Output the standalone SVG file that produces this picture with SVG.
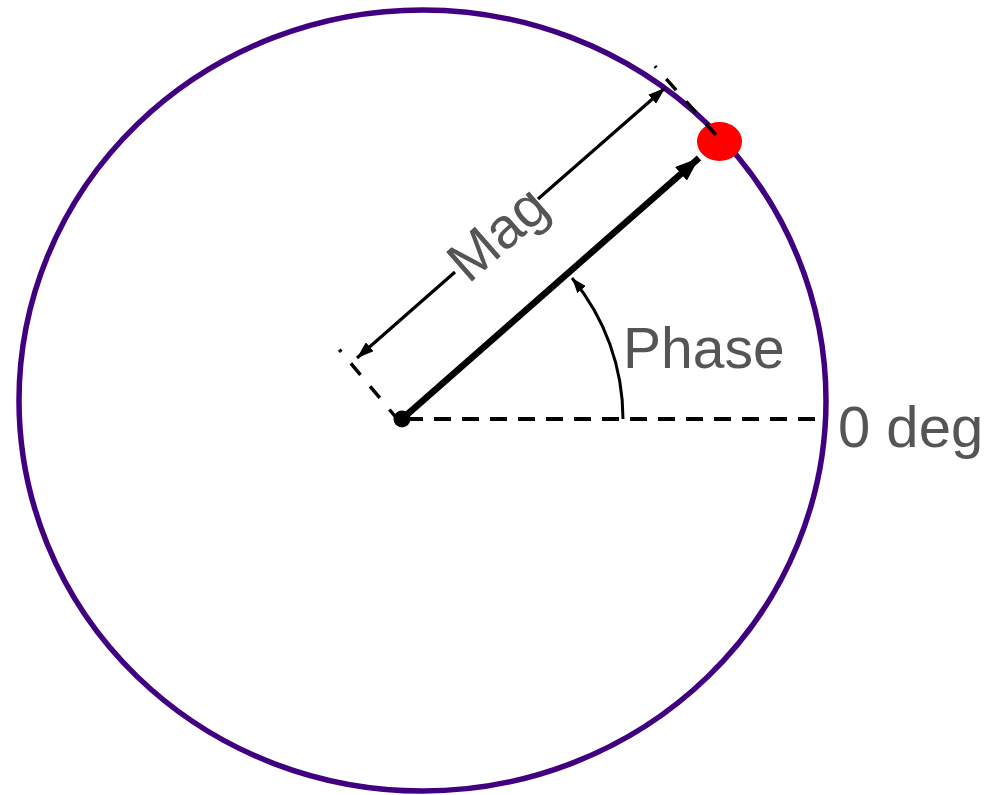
<svg xmlns="http://www.w3.org/2000/svg" width="984" height="795" viewBox="0 0 984 795">
<style>
.lbl{font-family:"Liberation Sans",Arial,sans-serif;fill:#555555;}
.ext{stroke:#000;stroke-width:3.5;fill:none;stroke-dasharray:15 15;}
</style>
<defs>
<marker id="aDim" viewBox="0 0 17 12" refX="17" refY="6" markerWidth="17" markerHeight="12" markerUnits="userSpaceOnUse" orient="auto-start-reverse"><path d="M0,0 L17,6 L0,12 z" fill="#000"/></marker>
<marker id="aBig" viewBox="0 0 24 18" refX="24" refY="9" markerWidth="24" markerHeight="18" markerUnits="userSpaceOnUse" orient="auto"><path d="M0,0 L24,9 L0,18 z" fill="#000"/></marker>
<marker id="aSmall" viewBox="0 0 15 11" refX="15" refY="5.5" markerWidth="15" markerHeight="11" markerUnits="userSpaceOnUse" orient="auto"><path d="M0,0 L15,5.5 L0,11 z" fill="#000"/></marker>
</defs>
<g id="circle">
<ellipse cx="422.5" cy="400.5" rx="403.5" ry="390.5" fill="none" stroke="#400080" stroke-width="5.5"/>
</g>
<g id="connectors">
<path d="M406,419 L826,419" stroke="#000" stroke-width="4" stroke-dasharray="17 11" fill="none"/>
<path d="M402,419 L699,158" stroke="#000" stroke-width="6.5" fill="none" marker-end="url(#aBig)"/>
<path d="M357,358 L455,272 M538,199 L665,88" stroke="#000" stroke-width="3.2" fill="none" marker-start="url(#aDim)" marker-end="url(#aDim)"/>
<path d="M623,419 A221,221 0 0 0 572,278" stroke="#000" stroke-width="3" fill="none" marker-end="url(#aSmall)"/>
<path class="ext" d="M399,421 L339.3,349.7"/>
</g>
<g id="point">
<ellipse cx="719.5" cy="141.5" rx="22.5" ry="19.5" fill="#ff0000"/>
</g>
<g id="ext-top">
<path class="ext" d="M716,135 L654.9,66.2"/>
</g>
<g id="origin">
<circle cx="402" cy="419" r="8.5" fill="#000"/>
</g>
<g id="labels">
<text class="lbl" x="623" y="368" font-size="57">Phase</text>
<text class="lbl" x="838" y="447" font-size="58">0 deg</text>
<text class="lbl" font-size="57" text-anchor="middle" x="0" y="20" transform="translate(497,233) rotate(-41.2)">Mag</text>
</g>
</svg>
